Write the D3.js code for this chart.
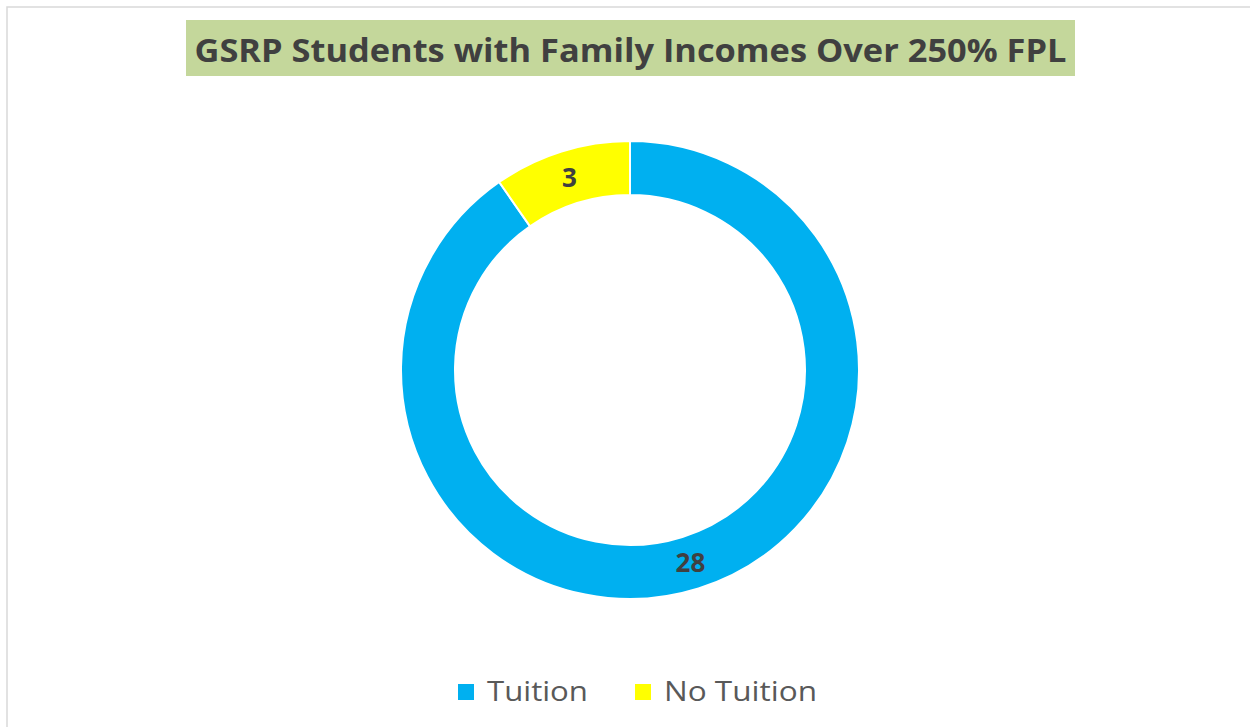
<!DOCTYPE html>
<html>
<head>
<meta charset="utf-8">
<script src="https://cdn.jsdelivr.net/npm/d3@7"></script>
<style>
  html, body { margin: 0; padding: 0; background: #fff; }
  svg { display: block; }
</style>
</head>
<body>
<svg id="chart" width="1250" height="727"></svg>
<script>
const title = "GSRP Students with Family Incomes Over 250% FPL";
const categories = ["Tuition", "No Tuition"];
const values = [28, 3];
const colors = ["#00B0F0", "#FFFF00"];

const svg = d3.select("#chart");
const W = 1250, H = 727;

// chart border
svg.append("rect")
  .attr("x", 7).attr("y", 7)
  .attr("width", W + 10).attr("height", H + 10)
  .attr("fill", "#fff").attr("stroke", "#D9D9D9").attr("stroke-width", 1.5);

// title
const tbX = 186, tbY = 20, tbW = 889, tbH = 56;
svg.append("rect")
  .attr("x", tbX).attr("y", tbY).attr("width", tbW).attr("height", tbH)
  .attr("fill", "#C4D79B");
svg.append("text")
  .attr("x", tbX + tbW / 2).attr("y", 62)
  .attr("text-anchor", "middle")
  .attr("font-family", "'Open Sans', sans-serif")
  .attr("font-weight", "bold")
  .attr("font-size", 32)
  .attr("fill", "#404040")
  .attr("textLength", 872)
  .attr("lengthAdjust", "spacingAndGlyphs")
  .text(title);

// donut
const cx = 630, cy = 370, rOuter = 229, rInner = 175;
const pie = d3.pie().sort(null).value(d => d);
const arc = d3.arc().innerRadius(rInner).outerRadius(rOuter);
const labelArc = d3.arc().innerRadius((rInner + rOuter) / 2).outerRadius((rInner + rOuter) / 2);
const color = d3.scaleOrdinal().domain(categories).range(colors);

const g = svg.append("g").attr("transform", `translate(${cx},${cy})`);
const arcs = pie(values);
g.selectAll("path.slice")
  .data(arcs)
  .join("path")
  .attr("class", "slice")
  .attr("d", arc)
  .attr("fill", (d, i) => color(categories[i]))
  .attr("stroke", "#fff")
  .attr("stroke-width", 2);

g.selectAll("text.lbl")
  .data(arcs)
  .join("text")
  .attr("class", "lbl")
  .attr("transform", d => `translate(${labelArc.centroid(d)})`)
  .attr("text-anchor", "middle")
  .attr("dy", "0.36em")
  .attr("font-family", "'Open Sans', sans-serif")
  .attr("font-weight", "bold")
  .attr("font-size", 26)
  .attr("fill", "#404040")
  .text(d => d.value);

// legend
const legendItems = [
  { x: 458, tx: 487, tw: 101 },
  { x: 635, tx: 664, tw: 153 }
];
const leg = svg.append("g");
categories.forEach((c, i) => {
  leg.append("rect")
    .attr("x", legendItems[i].x).attr("y", 684)
    .attr("width", 16).attr("height", 16)
    .attr("fill", color(c));
  leg.append("text")
    .attr("x", legendItems[i].tx).attr("y", 701)
    .attr("font-family", "'Open Sans', sans-serif")
    .attr("font-size", 27)
    .attr("fill", "#595959")
    .attr("textLength", legendItems[i].tw)
    .attr("lengthAdjust", "spacingAndGlyphs")
    .text(c);
});
</script>
</body>
</html>
